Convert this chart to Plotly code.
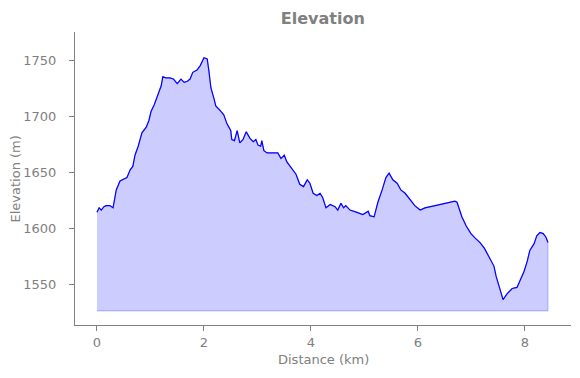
import plotly.graph_objects as go

distance_km = [0.00, 0.04, 0.08, 0.13, 0.17, 0.24, 0.30, 0.33, 0.36, 0.43, 0.50, 0.56, 0.62, 0.67, 0.71, 0.77,
               0.84, 0.92, 0.97, 1.01, 1.07, 1.14, 1.20, 1.23, 1.29, 1.36, 1.43, 1.50, 1.57, 1.63, 1.69,
               1.74, 1.79, 1.87, 1.93, 2.00, 2.06, 2.09, 2.13, 2.19, 2.22, 2.30, 2.37, 2.43, 2.50, 2.52,
               2.57, 2.62, 2.67, 2.73, 2.79, 2.86, 2.92, 2.97, 3.01, 3.06, 3.08, 3.12, 3.18, 3.25, 3.38,
               3.44, 3.50, 3.55, 3.63, 3.72, 3.79, 3.86, 3.93, 3.98, 4.04, 4.11, 4.17, 4.22, 4.28, 4.36,
               4.45, 4.50, 4.56, 4.61, 4.65, 4.73, 4.86, 4.97, 5.07, 5.10, 5.18, 5.25, 5.33, 5.40, 5.46,
               5.53, 5.61, 5.68, 5.76, 5.85, 5.94, 6.04, 6.13, 6.32, 6.50, 6.69, 6.73, 6.82, 6.90, 6.99,
               7.07, 7.16, 7.24, 7.31, 7.38, 7.42, 7.46, 7.50, 7.53, 7.59, 7.66, 7.76, 7.85, 7.91, 7.98,
               8.04, 8.09, 8.17, 8.22, 8.28, 8.34, 8.39, 8.43]
elevation_m = [1614, 1618, 1616, 1619, 1620, 1620, 1618, 1627, 1634, 1642, 1644, 1645, 1652, 1655, 1665, 1673,
               1685, 1690, 1696, 1704, 1710, 1719, 1727, 1735, 1734, 1734, 1733, 1729, 1733, 1730, 1731,
               1733, 1739, 1741, 1745, 1752, 1751, 1741, 1725, 1715, 1709, 1705, 1701, 1693, 1687, 1679,
               1678, 1687, 1676, 1679, 1686, 1680, 1677, 1679, 1674, 1673, 1678, 1669, 1667, 1667, 1667,
               1662, 1665, 1659, 1654, 1648, 1639, 1637, 1643, 1640, 1631, 1629, 1631, 1627, 1618, 1621,
               1619, 1616, 1622, 1618, 1620, 1616, 1614, 1612, 1615, 1611, 1610, 1623, 1634, 1645, 1649,
               1643, 1640, 1634, 1631, 1626, 1620, 1616, 1618, 1620, 1622, 1624, 1623, 1610, 1602, 1595,
               1591, 1587, 1582, 1576, 1570, 1566, 1557, 1550, 1545, 1536, 1541, 1546, 1547, 1553, 1561,
               1570, 1580, 1586, 1593, 1596, 1595, 1592, 1587]
base_m = 1526

gray = "#808080"
font = "DejaVu Sans"

fig = go.Figure()
fig.add_trace(go.Scatter(
    x=distance_km + [distance_km[-1], distance_km[0]],
    y=elevation_m + [base_m, base_m],
    fill="toself", fillcolor="rgba(0,0,255,0.2)",
    line=dict(color="rgba(0,0,255,0.2)", width=1.2),
    mode="lines", hoverinfo="skip", showlegend=False))
fig.add_trace(go.Scatter(
    x=distance_km, y=elevation_m, mode="lines",
    line=dict(color="blue", width=1.2), showlegend=False))

fig.update_layout(
    width=580, height=378,
    margin=dict(l=67, r=17, t=24, b=61, autoexpand=False),
    paper_bgcolor="white", plot_bgcolor="white",
    font=dict(family=font, size=13, color=gray),
    title=dict(text="<b>Elevation</b>", x=0.5428, xanchor="center", y=0.973, yanchor="middle",
               font=dict(family=font, size=16, color=gray)),
    annotations=[
        dict(text="Distance (km)", xref="paper", yref="paper", x=0.5, y=-0.119,
             xanchor="center", yanchor="middle", showarrow=False,
             font=dict(family=font, size=13, color=gray)),
        dict(text="Elevation (m)", xref="paper", yref="paper", x=-0.119, y=0.5,
             xanchor="center", yanchor="middle", textangle=-90, showarrow=False,
             font=dict(family=font, size=13, color=gray)),
    ],
)
fig.update_xaxes(
    range=[-0.411, 8.86], tickvals=[0, 2, 4, 6, 8], showgrid=False, zeroline=False,
    showline=True, linecolor=gray, linewidth=1, ticks="outside", ticklen=5, tickcolor=gray,
    automargin=False, ticklabelstandoff=0, tickfont=dict(size=13, color=gray))
fig.update_yaxes(
    range=[1513.4, 1775], tickvals=[1550, 1600, 1650, 1700, 1750], showgrid=False, zeroline=False,
    showline=True, linecolor=gray, linewidth=1, ticks="outside", ticklen=5, tickcolor=gray,
    automargin=False, ticklabelstandoff=10, tickfont=dict(size=13, color=gray))

fig.write_html("out.html")
